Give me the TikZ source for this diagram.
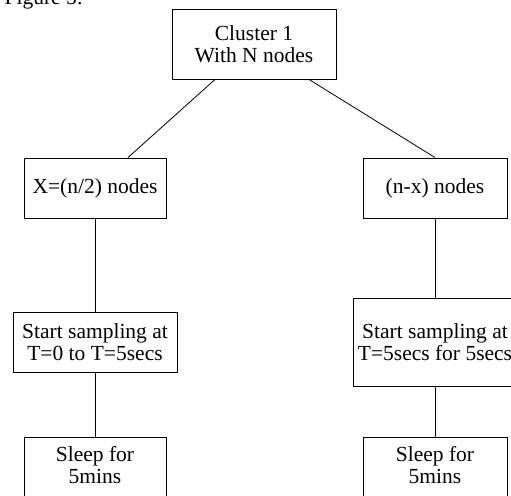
\documentclass[tikz,border=0pt]{standalone}
\usepackage{fontspec}
\setmainfont{Liberation Serif}
\begin{document}
\begin{tikzpicture}[x=1pt,y=1pt,
  box/.style={draw, line width=0.9pt, inner sep=0pt, align=center,
    font=\fontsize{21.5}{21.7}\selectfont},
  link/.style={line width=0.8pt}]
\useasboundingbox (0,0) rectangle (511,495);
\node[anchor=base east, inner sep=0pt, font=\fontsize{21.5}{21.7}\selectfont] (fig) at (83,490.5) {Figure 5:};
\node[box, minimum width=164pt, minimum height=70pt] (cl) at (254,451) {Cluster 1\\With N nodes};
\node[box, minimum width=142pt, minimum height=60pt] (xl) at (95,307) {X=(n/2) nodes};
\node[box, minimum width=144pt, minimum height=60pt] (xr) at (435,307) {(n-x) nodes};
\node[box, minimum width=164pt, minimum height=60pt] (sl) at (95,153) {Start sampling at\\T=0 to T=5secs};
\node[box, minimum width=164pt, minimum height=88pt] (sr) at (435,153) {Start sampling at\\T=5secs for 5secs};
\node[box, minimum width=142pt, minimum height=80pt] (zl) at (95,18) {Sleep for\\5mins\rule[-23.8pt]{0pt}{0pt}};
\node[box, minimum width=144pt, minimum height=80pt] (zr) at (435,18) {Sleep for\\5mins\rule[-23.8pt]{0pt}{0pt}};
\draw[link] ([xshift=-39pt]cl.south) -- ([xshift=33pt]xl.north);
\draw[link] ([xshift=55pt]cl.south) -- (xr.north);
\draw[link] (xl.south) -- (sl.north);
\draw[link] (sl.south) -- (zl.north);
\draw[link] (xr.south) -- (sr.north);
\draw[link] (sr.south) -- (zr.north);
\end{tikzpicture}
\end{document}
